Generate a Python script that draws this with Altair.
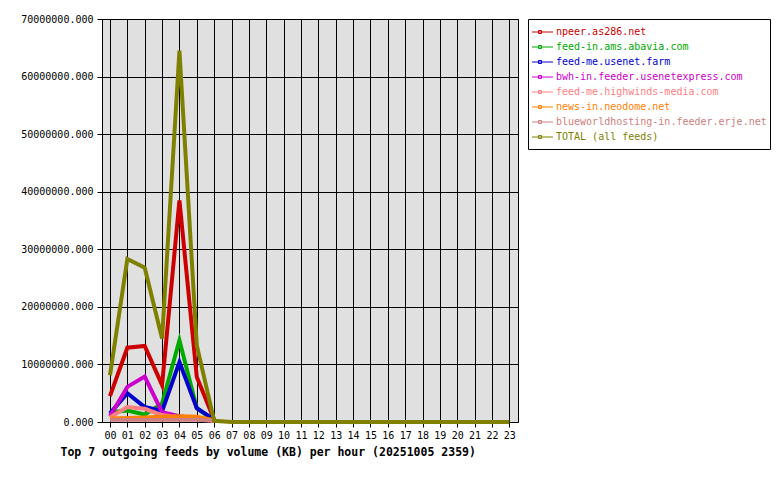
import altair as alt
import pandas as pd

hours = list(range(24))

series_names = [
    "npeer.as286.net",
    "feed-in.ams.abavia.com",
    "feed-me.usenet.farm",
    "bwh-in.feeder.usenetexpress.com",
    "feed-me.highwinds-media.com",
    "news-in.neodome.net",
    "blueworldhosting-in.feeder.erje.net",
    "TOTAL (all feeds)",
]
colors = ["#CC0000", "#00AA00", "#0000CC", "#CC00CC", "#FF8080", "#FF8000", "#D08080", "#808000"]

# values in KB per hour (hours 00..06 for feeds, 00..23 for total)
npeer = [4500000, 12900000, 13200000, 6400000, 38500000, 7800000, 400000]
abavia = [1700000, 2000000, 1300000, 3200000, 14200000, 2400000, 300000]
usenet_farm = [1500000, 5000000, 2600000, 1900000, 10400000, 2400000, 400000]
usenetexpress = [1000000, 6100000, 7900000, 1700000, 1000000, 600000, 200000]
highwinds = [800000, 2600000, 2300000, 1200000, 800000, 500000, 200000]
neodome = [600000, 700000, 800000, 900000, 1000000, 900000, 300000]
blueworld = [400000, 400000, 400000, 400000, 400000, 400000, 200000]
total = [8100000, 28300000, 26800000, 14500000, 64500000, 13300000, 200000,
         0, 0, 0, 0, 0, 0, 0, 0, 0, 0, 0, 0, 0, 0, 0, 0, 0]

series_values = [npeer, abavia, usenet_farm, usenetexpress, highwinds, neodome, blueworld, total]

y_ticks = [0, 10000000, 20000000, 30000000, 40000000, 50000000, 60000000, 70000000]

rows = []
for name, vals in zip(series_names, series_values):
    for h, v in zip(hours, vals):
        rows.append({"series": name, "hour": h, "value": v})
df = pd.DataFrame(rows)

FONT = "DejaVu Sans Mono"

color_enc = alt.Color("series:N", scale=alt.Scale(domain=series_names, range=colors), legend=None)

plot = alt.Chart(df).mark_line(strokeWidth=4).encode(
    x=alt.X("hour:Q",
            scale=alt.Scale(domain=[-0.46, 23.5], nice=False, zero=False),
            axis=alt.Axis(values=hours, format="02d", labelFlush=False,
                          title="Top 7 outgoing feeds by volume (KB) per hour (20251005 2359)",
                          titleFont=FONT, titleFontSize=11.5, titleFontWeight="bold",
                          titleColor="black", titleAlign="left", titleAnchor="start",
                          titleX=-42, titleY=30, titleBaseline="middle",
                          tickSize=5, labelPadding=3)),
    y=alt.Y("value:Q",
            scale=alt.Scale(domain=[0, 70000000], nice=False),
            axis=alt.Axis(values=y_ticks, format=".3f", title=None,
                          tickSize=5, labelPadding=4)),
    color=color_enc,
    detail="series:N",
).properties(
    width=416, height=403,
    view=alt.ViewBackground(fill="#E0E0E0", stroke="black", strokeWidth=1),
)

leg_df = pd.DataFrame({"series": series_names})
ly = alt.Y("series:N",
           scale=alt.Scale(type="point", domain=series_names, range=[13, 118], padding=0),
           axis=None)

leg_rule = alt.Chart(leg_df).mark_rule(strokeWidth=1).encode(
    x=alt.value(4), x2=alt.value(25), y=ly, color=color_enc)
leg_sq = alt.Chart(leg_df).mark_point(shape="square", filled=False, size=9, strokeWidth=1, opacity=1).encode(
    x=alt.value(12), y=ly, color=color_enc)
leg_text = alt.Chart(leg_df).mark_text(align="left", baseline="middle", font=FONT, fontSize=10).encode(
    x=alt.value(28), y=ly, text="series:N", color=color_enc)

legend = alt.layer(leg_rule, leg_sq, leg_text).properties(
    width=242, height=130,
    view=alt.ViewBackground(fill="white", stroke="black", strokeWidth=1),
)

chart = alt.hconcat(plot, legend, spacing=8).properties(
    padding={"left": 20, "top": 13, "right": 5, "bottom": 5},
    background="white",
).configure_axis(
    labelFont=FONT, labelFontSize=10, labelColor="black",
    tickColor="black", gridColor="black", gridOpacity=1, gridWidth=1,
    domain=False, grid=True,
)

chart.save("out.html", embed_options={"renderer": "svg", "actions": False})
